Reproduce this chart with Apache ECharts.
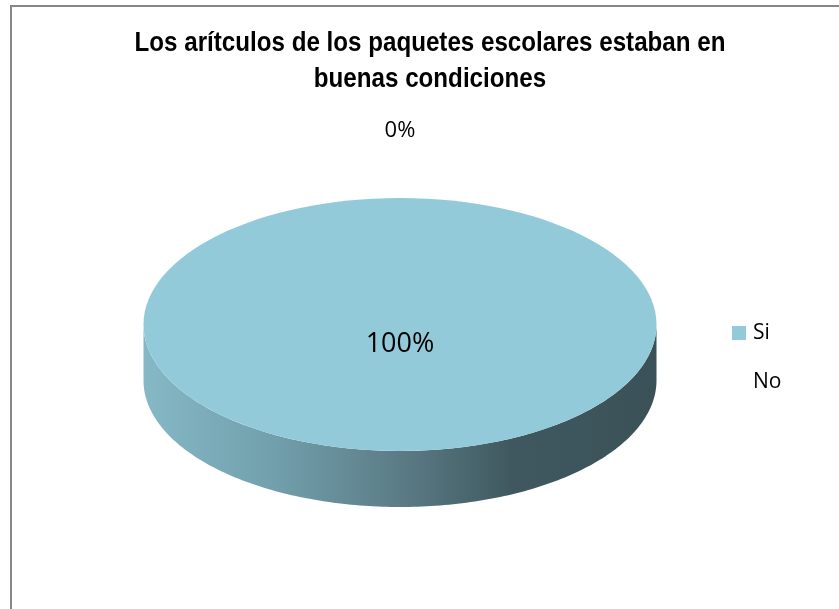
<!DOCTYPE html>
<html><head><meta charset="utf-8">
<script src="https://cdn.jsdelivr.net/npm/echarts@6/dist/echarts.min.js"></script>
<style>html,body{margin:0;padding:0;background:#fff}#c{width:839px;height:609px}</style>
</head><body><div id="c"></div>
<script>
// ---- data ----
const titleLines = ['Los arítculos de los paquetes escolares estaban en', 'buenas condiciones'];
const categories = ['Si', 'No'];
const values = [100, 0];
const sliceColors = ['#93CADA', '#4BACC6'];

// ---- layout / style ----
const PIE = { cx: 400, cy: 324.5, rx: 256.5, ry: 126.5, depth: 56 };
const total = values.reduce((a, b) => a + b, 0);
const LABEL_FONT = '"Open Sans", "Liberation Sans", sans-serif';

function pt(theta, dy) {
  return [PIE.cx + PIE.rx * Math.sin(theta), PIE.cy - PIE.ry * Math.cos(theta) + (dy || 0)];
}
function arc(a0, a1, dy) {
  const pts = [];
  const n = Math.max(2, Math.ceil(Math.abs(a1 - a0) / (Math.PI / 180)));
  for (let i = 0; i <= n; i++) pts.push(pt(a0 + (a1 - a0) * i / n, dy));
  return pts;
}

function makeRender(idx) {
  return function (params, api) {
    const v = api.value(0);
    let before = 0;
    for (let i = 0; i < idx; i++) before += values[i];
    const a0 = before / total * Math.PI * 2;
    const a1 = (before + v) / total * Math.PI * 2;
    const pct = Math.round(v / total * 100);
    const children = [];
    const full = (a1 - a0) >= Math.PI * 2 - 1e-9;
    // side wall (front half only)
    const s = Math.max(a0, Math.PI / 2), e = Math.min(a1, Math.PI * 1.5);
    if (e > s) {
      const pts = arc(s, e, 0).concat(arc(e, s, PIE.depth));
      children.push({
        type: 'polygon', z2: 1,
        shape: { points: pts },
        style: {
          fill: {
            type: 'linear', x: 0, y: 0, x2: 1, y2: 0,
            colorStops: [
              { offset: 0, color: '#86b8c6' },
              { offset: 0.25, color: '#72a0ad' },
              { offset: 0.5, color: '#5b7c86' },
              { offset: 0.72, color: '#3f585f' },
              { offset: 1, color: '#3b5158' }
            ]
          }
        }
      });
    }
    // top face
    if (full) {
      children.push({ type: 'ellipse', z2: 10, shape: { cx: PIE.cx, cy: PIE.cy, rx: PIE.rx, ry: PIE.ry },
        style: { fill: sliceColors[idx] } });
    } else if (a1 > a0) {
      children.push({ type: 'polygon', z2: 10, shape: { points: [[PIE.cx, PIE.cy]].concat(arc(a0, a1, 0)) },
        style: { fill: sliceColors[idx] } });
    }
    // label
    const mid = (a0 + a1) / 2;
    let lx, ly, fs;
    if (pct >= 5) {
      if (full) { lx = PIE.cx; ly = PIE.cy + 20; }
      else { const p = [PIE.cx + PIE.rx * 0.6 * Math.sin(mid), PIE.cy - PIE.ry * 0.6 * Math.cos(mid)]; lx = p[0]; ly = p[1]; }
      fs = 27;
    } else {
      lx = PIE.cx + (PIE.rx + 67) * Math.sin(mid);
      ly = PIE.cy - (PIE.ry + 67) * Math.cos(mid);
      fs = 22;
    }
    children.push({ type: 'text', z2: 20, x: lx, y: ly,
      style: { text: pct + '%', fill: '#000', font: fs + 'px ' + LABEL_FONT, align: 'center', verticalAlign: 'middle' } });
    return { type: 'group', children: children };
  };
}

const chart = echarts.init(document.getElementById('c'), null, { renderer: 'canvas' });
chart.setOption({
  backgroundColor: '#ffffff',
  animation: false,
  graphic: [
    { type: 'rect', shape: { x: 11, y: 6, width: 900, height: 700 },
      style: { fill: 'none', stroke: '#878787', lineWidth: 2 }, z: -10 },
    { type: 'text', x: 430, y: 44, scaleX: 0.895,
      style: { text: titleLines[0], font: 'bold 27px "Liberation Sans", Arial, sans-serif', fill: '#000', align: 'center', verticalAlign: 'middle' } },
    { type: 'text', x: 430, y: 80, scaleX: 0.895,
      style: { text: titleLines[1], font: 'bold 27px "Liberation Sans", Arial, sans-serif', fill: '#000', align: 'center', verticalAlign: 'middle' } }
  ],
  legend: {
    orient: 'vertical', left: 732, top: 322, padding: 0,
    itemWidth: 14, itemHeight: 14, itemGap: 27,
    icon: 'rect',
    textStyle: { fontSize: 21, fontFamily: LABEL_FONT, color: '#000', lineHeight: 22, padding: [0, 0, 0, 2] },
    data: categories.map((c, i) => i === 0 ? { name: c } : { name: c, itemStyle: { opacity: 0 } })
  },
  series: categories.map((c, i) => ({
    type: 'custom', name: c, coordinateSystem: 'none',
    itemStyle: { color: sliceColors[i] },
    data: [[values[i]]],
    renderItem: makeRender(i)
  }))
});
</script></body></html>
